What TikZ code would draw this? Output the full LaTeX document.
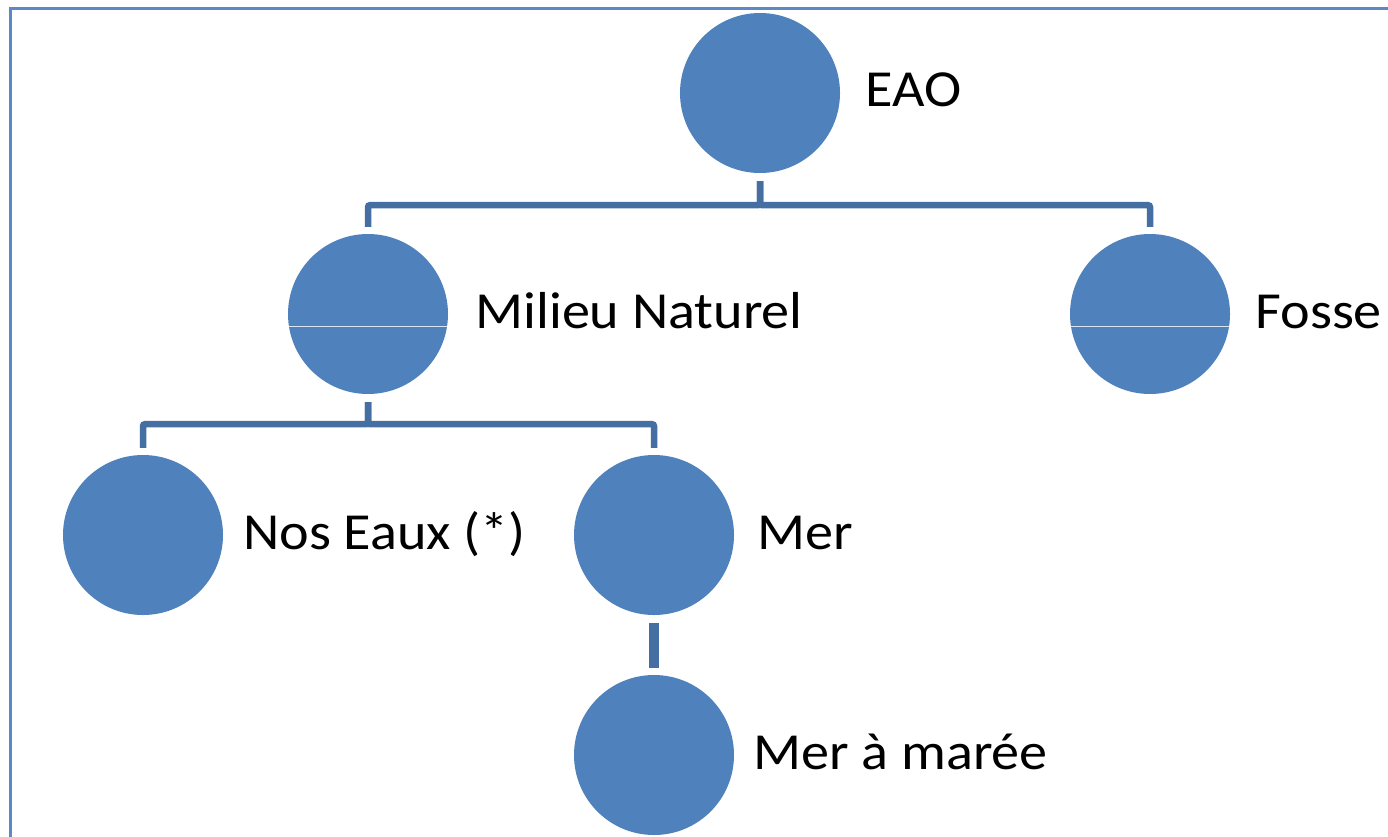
\documentclass[tikz,border=0pt]{standalone}
\usepackage{fontspec}
\setmainfont{Carlito}[FakeStretch=1.08]
\definecolor{nodeblue}{HTML}{4F81BD}
\definecolor{connblue}{HTML}{456FA3}
\definecolor{frameblue}{HTML}{5A89C6}
\tikzset{
  circ/.style={circle, fill=nodeblue, minimum size=160pt, inner sep=0pt, draw=none},
  conn/.style={draw=connblue, line width=6.5pt, rounded corners=2pt, shorten <=8pt, shorten >=7pt},
  thickconn/.style={draw=connblue, line width=9.5pt, shorten <=8pt, shorten >=7pt},
  lbl/.style={anchor=base west, inner sep=0pt, font=\fontsize{52}{60}\selectfont, text=black},
  seam/.style={draw=white, line width=0.8pt, opacity=0.8}
}
\begin{document}
\begin{tikzpicture}[x=1pt,y=-1pt]
\useasboundingbox (0,0) rectangle (1388,836);
\fill[white] (0,0) rectangle (1388,836);
\draw[frameblue, line width=3.2pt] (10.3,840) -- (10.3,8.3) -- (1392,8.3);

\node[circ] (eao) at (760,93) {};
\node[circ] (mil) at (368,314) {};
\node[circ] (fos) at (1150,314) {};
\node[circ] (nos) at (143,535) {};
\node[circ] (mer) at (654,535) {};
\node[circ] (mar) at (654,755) {};

\draw[seam] ([yshift=-12pt]mil.west) -- ([yshift=-12pt]mil.east);
\draw[seam] ([yshift=-12pt]fos.west) -- ([yshift=-12pt]fos.east);

\draw[conn] (eao.south) -- ++(0,32) -| (mil.north);
\draw[conn] (eao.south) -- ++(0,32) -| (fos.north);
\draw[conn] (mil.south) -- ++(0,30) -| (nos.north);
\draw[conn] (mil.south) -- ++(0,30) -| (mer.north);
\draw[thickconn] (mer.south) -- (mar.north);

\node[lbl] (teao) at ([xshift=25pt,yshift=-13pt]eao.east) {EAO};
\node[lbl] (tmil) at ([xshift=27pt,yshift=-14pt]mil.east) {Milieu Naturel};
\node[lbl] (tfos) at ([xshift=25pt,yshift=-14pt]fos.east) {Fosse};
\node[lbl] (tnos) at ([xshift=20pt,yshift=-14pt]nos.east) {Nos Eaux (*)};
\node[lbl] (tmer) at ([xshift=23pt,yshift=-14pt]mer.east) {Mer};
\node[lbl] (tmar) at ([xshift=19pt,yshift=-14pt]mar.east) {Mer à marée};
\end{tikzpicture}
\end{document}
